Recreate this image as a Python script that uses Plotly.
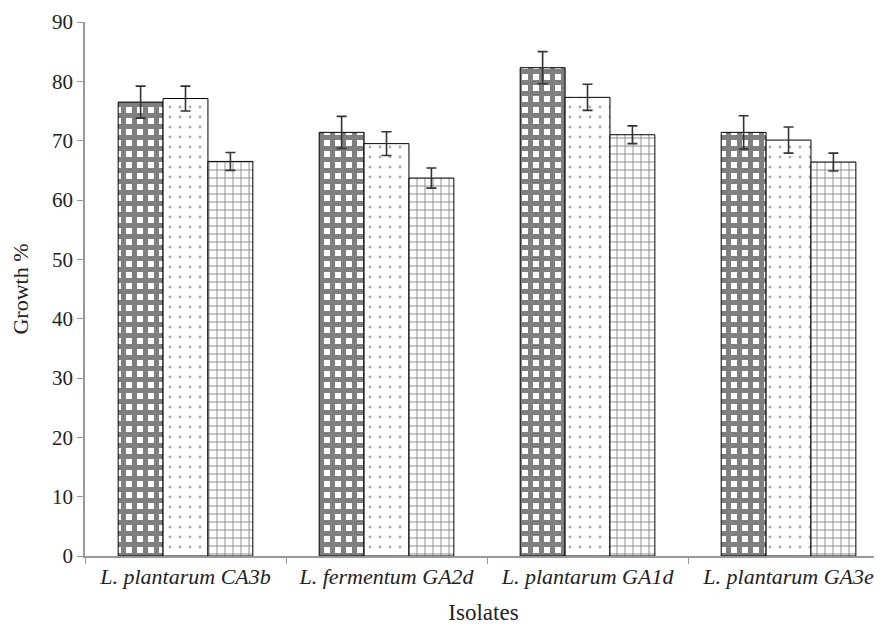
import plotly.graph_objects as go

isolates = ["<i>L. plantarum CA3b</i>", "<i>L. fermentum GA2d</i>",
            "<i>L. plantarum GA1d</i>", "<i>L. plantarum GA3e</i>"]
series1 = [76.5, 71.4, 82.3, 71.4]
err1 = [2.7, 2.7, 2.7, 2.8]
series2 = [77.1, 69.5, 77.3, 70.1]
err2 = [2.1, 2.0, 2.2, 2.2]
series3 = [66.5, 63.7, 71.0, 66.4]
err3 = [1.5, 1.7, 1.5, 1.5]
y_ticks = [0, 10, 20, 30, 40, 50, 60, 70, 80, 90]

patterns = [
    dict(shape="+", fgcolor="#000000", bgcolor="white", size=11, solidity=0.7),
    dict(shape=".", fgcolor="#555555", bgcolor="white", size=10, solidity=0.06),
    dict(shape="+", fgcolor="#111111", bgcolor="white", size=8, solidity=0.22),
]

fig = go.Figure()
for vals, errs, pat in zip([series1, series2, series3], [err1, err2, err3], patterns):
    fig.add_trace(go.Bar(
        x=isolates, y=vals,
        marker=dict(color="white", pattern=pat, line=dict(color="black", width=1)),
        error_y=dict(type="data", array=errs, visible=True, color="#333333",
                     thickness=1.6, width=5),
        showlegend=False,
    ))

font_family = "Liberation Serif, Times New Roman, serif"
# page body has an 8px default margin, so the figure is sized to fit the window
fig.update_layout(
    width=874, height=622,
    barmode="group", bargap=0.33, bargroupgap=0,
    plot_bgcolor="white", paper_bgcolor="white",
    margin=dict(l=77, r=0, t=14, b=74),
    font=dict(family=font_family, size=22, color="#222222"),
    xaxis=dict(
        title=dict(text="Isolates", font=dict(size=23), standoff=16),
        showline=True, linecolor="#999999", linewidth=1.5,
        ticks="outside", tickson="boundaries", ticklen=6, tickcolor="#999999",
        tickfont=dict(size=22),
        range=[-0.5, 3.465],
    ),
    yaxis=dict(
        title=dict(text="Growth %", font=dict(size=22), standoff=17),
        range=[0, 90], tickvals=y_ticks,
        showline=True, linecolor="#999999", linewidth=1.5,
        ticks="outside", ticklen=6, tickcolor="#999999",
        showgrid=False, zeroline=False,
        tickfont=dict(size=21),
    ),
)

fig.write_html("out.html")
